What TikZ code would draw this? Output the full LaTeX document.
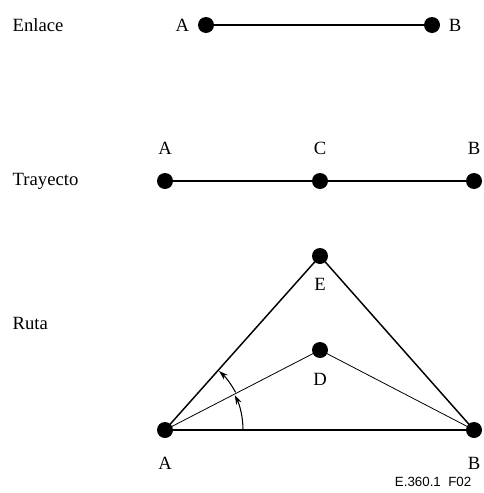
\documentclass[tikz,border=0pt]{standalone}
\usepackage{fontspec}
\setmainfont{Liberation Serif}
\newfontfamily\figfont{Liberation Sans}
\usetikzlibrary{arrows.meta}
\tikzset{
  punto/.style={circle, fill=black, inner sep=0pt, minimum size=12pt},
  rotulo/.style={font=\fontsize{14}{16}\selectfont},
}
\begin{document}
\begin{tikzpicture}[x=0.75pt, y=-0.75pt]
		\useasboundingbox (0,0) rectangle (484,493);
		
		% Enlace
		\node[rotulo, anchor=west] (tEnlace) at (8,25) {Enlace};
		\node[punto] (eA) at (206,25) {};
		\node[punto] (eB) at (432,25) {};
		\node[rotulo, left=3pt] (leA) at (eA.west) {A};
		\node[rotulo, right=3pt] (leB) at (eB.east) {B};
		\draw[line width=0.8pt] (eA) -- (eB);
		
		% Trayecto
		\node[rotulo, anchor=west] (tTrayecto) at (8,181) {Trayecto};
		\node[punto] (tA) at (165,181) {};
		\node[punto] (tC) at (320,181) {};
		\node[punto] (tB) at (474,181) {};
		\node[rotulo] (ltA) at (165,148) {A};
		\node[rotulo] (ltC) at (320,148) {C};
		\node[rotulo] (ltB) at (474,148) {B};
		\draw[line width=0.8pt] (tA) -- (tC) -- (tB);
		
		% Ruta
		\node[rotulo, anchor=west] (tRuta) at (8,323) {Ruta};
		\node[punto] (rA) at (165,430) {};
		\node[punto] (rB) at (474,430) {};
		\node[punto] (rE) at (320,256) {};
		\node[punto] (rD) at (320,350) {};
		\node[rotulo] (lrA) at (165,463) {A};
		\node[rotulo] (lrB) at (474,463) {B};
		\node[rotulo] (lrE) at (320,284) {E};
		\node[rotulo] (lrD) at (320,379) {D};
		\draw[line width=1.1pt] (rA.center) -- (rE.center) -- (rB.center);
		\draw[line width=0.6pt] (rA.center) -- (rD.center) -- (rB.center);
		\draw[line width=0.8pt] (rA) -- (rB);
		
		% Angulos
		\draw[line width=0.8pt, -{Stealth[length=7pt, width=4.5pt]}] ([shift={(0:78)}]rA.center) arc[start angle=0, end angle=-26.5, radius=78];
		\draw[line width=0.8pt, -{Stealth[length=7pt, width=4.5pt]}] ([shift={(-28:80)}]rA.center) arc[start angle=-28, end angle=-47.5, radius=80];
		
		\node[font=\figfont\fontsize{10}{12}\selectfont, anchor=east] (ref) at (476,482) {E.360.1\ \ F02};
\end{tikzpicture}
\end{document}
